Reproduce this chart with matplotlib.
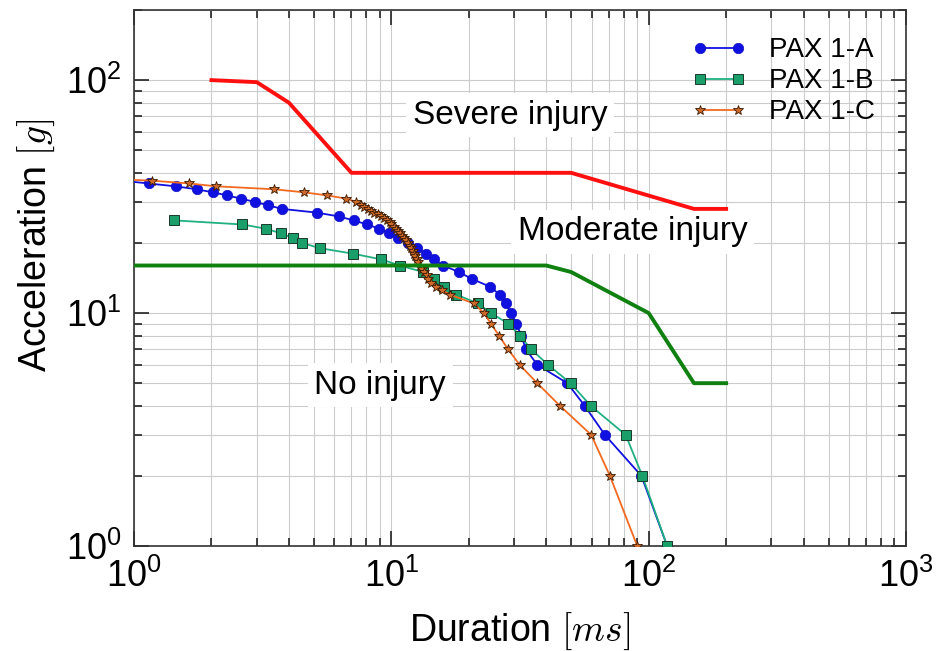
import matplotlib
matplotlib.use('Agg')
import matplotlib.pyplot as plt
from matplotlib.ticker import LogLocator, NullFormatter

plt.rcParams['font.family'] = ['Liberation Sans', 'DejaVu Sans']
plt.rcParams['mathtext.fontset'] = 'cm'

# Injury boundary curves
severe_x = [2, 3, 4, 7, 50, 150, 200]
severe_y = [100, 98, 80, 40, 40, 28, 28]
moderate_x = [1, 40, 50, 100, 150, 200]
moderate_y = [16, 16, 15, 10, 5, 5]

# PAX 1-A
pax_a_x = [0.9, 1.14, 1.45, 1.75, 2.02, 2.30, 2.60, 2.95, 3.33, 3.76, 5.12, 6.24, 7.13,
           8.07, 8.98, 9.77, 10.6, 11.6, 12.6, 13.6, 14.6, 15.9, 18.3, 20.6, 24.1, 26.4,
           27.9, 29.2, 30.6, 32.0, 33.3, 36.9, 48.3, 56.4, 67.6, 93.7, 118]
pax_a_y = [37, 36, 35, 34, 33, 32, 31, 30, 29, 28, 27, 26, 25, 24, 23, 22, 21, 20, 19, 18,
           17, 16, 15, 14, 13, 12, 11, 10, 9, 8, 7, 6, 5, 4, 3, 2, 1]

# PAX 1-B
pax_b_x = [1.43, 2.64, 3.27, 3.72, 4.15, 4.51, 5.26, 7.07, 9.14, 10.8, 13.3, 14.6, 16.0,
           17.9, 21.7, 24.4, 28.5, 31.6, 34.9, 40.6, 49.7, 59.5, 81.4, 94.5, 118]
pax_b_y = [25, 24, 23, 22, 21, 20, 19, 18, 17, 16, 15, 14, 13, 12, 11, 10, 9, 8, 7, 6, 5,
           4, 3, 2, 1]

# PAX 1-C
pax_c_x = [0.9, 1.18, 1.64, 2.09, 3.50, 4.56, 5.62, 6.68, 7.31, 7.6, 7.85, 8.1, 8.35, 8.6,
           8.9, 9.15, 9.4, 9.6, 9.85, 10.0, 10.2, 10.4, 10.6, 10.8, 11.0, 11.2, 11.4, 11.6,
           11.8, 11.95, 12.1, 12.25, 12.4, 12.55, 12.75, 12.95, 13.2, 13.45, 13.7, 13.9,
           14.3, 14.9, 15.8, 16.9, 20.9, 22.9, 24.4, 26.2, 28.4, 31.5, 36.9, 45.2, 59.8,
           70.7, 90.3]
pax_c_y = [37.5, 37, 36, 35, 34, 33, 32, 31, 30, 29, 28.5, 28, 27.5, 27, 26.5, 26, 25.5,
           25, 24.5, 24, 23.5, 23, 22.5, 22, 21.5, 21, 20.5, 20, 19.5, 19, 18.5, 18, 17.5,
           17, 16.5, 16, 15.5, 15, 14.5, 14, 13.5, 13, 12.5, 12, 11, 10, 9, 8, 7, 6, 5, 4,
           3, 2, 1]

fig = plt.figure(figsize=(9.36, 6.51), dpi=100)
ax = fig.add_axes([134/936, 1-546/651, 772/936, 536/651])
ax.set_xscale('log')
ax.set_yscale('log')
ax.set_xlim(1, 1000)
ax.set_ylim(1, 200)

ax.plot(severe_x, severe_y, color='#ff1010', lw=2.8, zorder=7)
ax.plot(moderate_x, moderate_y, color='#108010', lw=2.8, zorder=7)

ax.plot(pax_a_x, pax_a_y, '-o', color='#1010e0', lw=1.3, ms=7.5, mfc='#1010e0',
        mec='#1010c0', mew=0.5, label='PAX 1-A', zorder=4)
ax.plot(pax_b_x, pax_b_y, '-s', color='#20b080', lw=1.3, ms=7, mfc='#1a9e6a',
        mec='#1a3a2a', mew=0.7, label='PAX 1-B', zorder=4)
ax.plot(pax_c_x, pax_c_y, '-*', color='#f26a20', lw=1.3, ms=7.5, mfc='#d06a2a',
        mec='#3a1a00', mew=0.6, label='PAX 1-C', zorder=5)

ax.xaxis.set_major_locator(LogLocator(base=10, numticks=10))
ax.xaxis.set_minor_locator(LogLocator(base=10, subs=range(2, 10), numticks=20))
ax.yaxis.set_minor_locator(LogLocator(base=10, subs=range(2, 10), numticks=20))
ax.xaxis.set_minor_formatter(NullFormatter())
ax.yaxis.set_minor_formatter(NullFormatter())

ax.grid(True, which='both', color='#cccccc', lw=0.8)
ax.set_axisbelow(True)

ax.tick_params(which='both', direction='in', top=True, right=True, colors='#222222',
               width=1.2)
ax.tick_params(which='major', length=11, labelsize=26, pad=9, labelcolor='black')
ax.tick_params(which='minor', length=5.5)
for s in ax.spines.values():
    s.set_color('#333333')
    s.set_linewidth(1.2)

ax.set_xlabel('Duration $[ms]$', fontsize=27)
ax.set_ylabel('Acceleration $[g]$', fontsize=27)
ax.xaxis.set_label_coords(0.5, -0.12)
ax.yaxis.set_label_coords(-0.1, 0.56)

box = dict(boxstyle='square,pad=0.2', facecolor='white', edgecolor='none')
ax.text(29.0, 70.8, 'Severe injury', fontsize=24, ha='center', va='center', bbox=box, zorder=6)
ax.text(86.7, 22.3, 'Moderate injury', fontsize=24, ha='center', va='center', bbox=box, zorder=6)
ax.text(9.06, 4.91, 'No injury', fontsize=24, ha='center', va='center', bbox=box, zorder=6)

ax.legend(loc='upper right', bbox_to_anchor=(0.985, 0.985), frameon=False, fontsize=20,
          numpoints=2, handlelength=2.0, labelspacing=0.18, handletextpad=0.8,
          borderaxespad=0.3)

fig.savefig('out.png', dpi=100)
